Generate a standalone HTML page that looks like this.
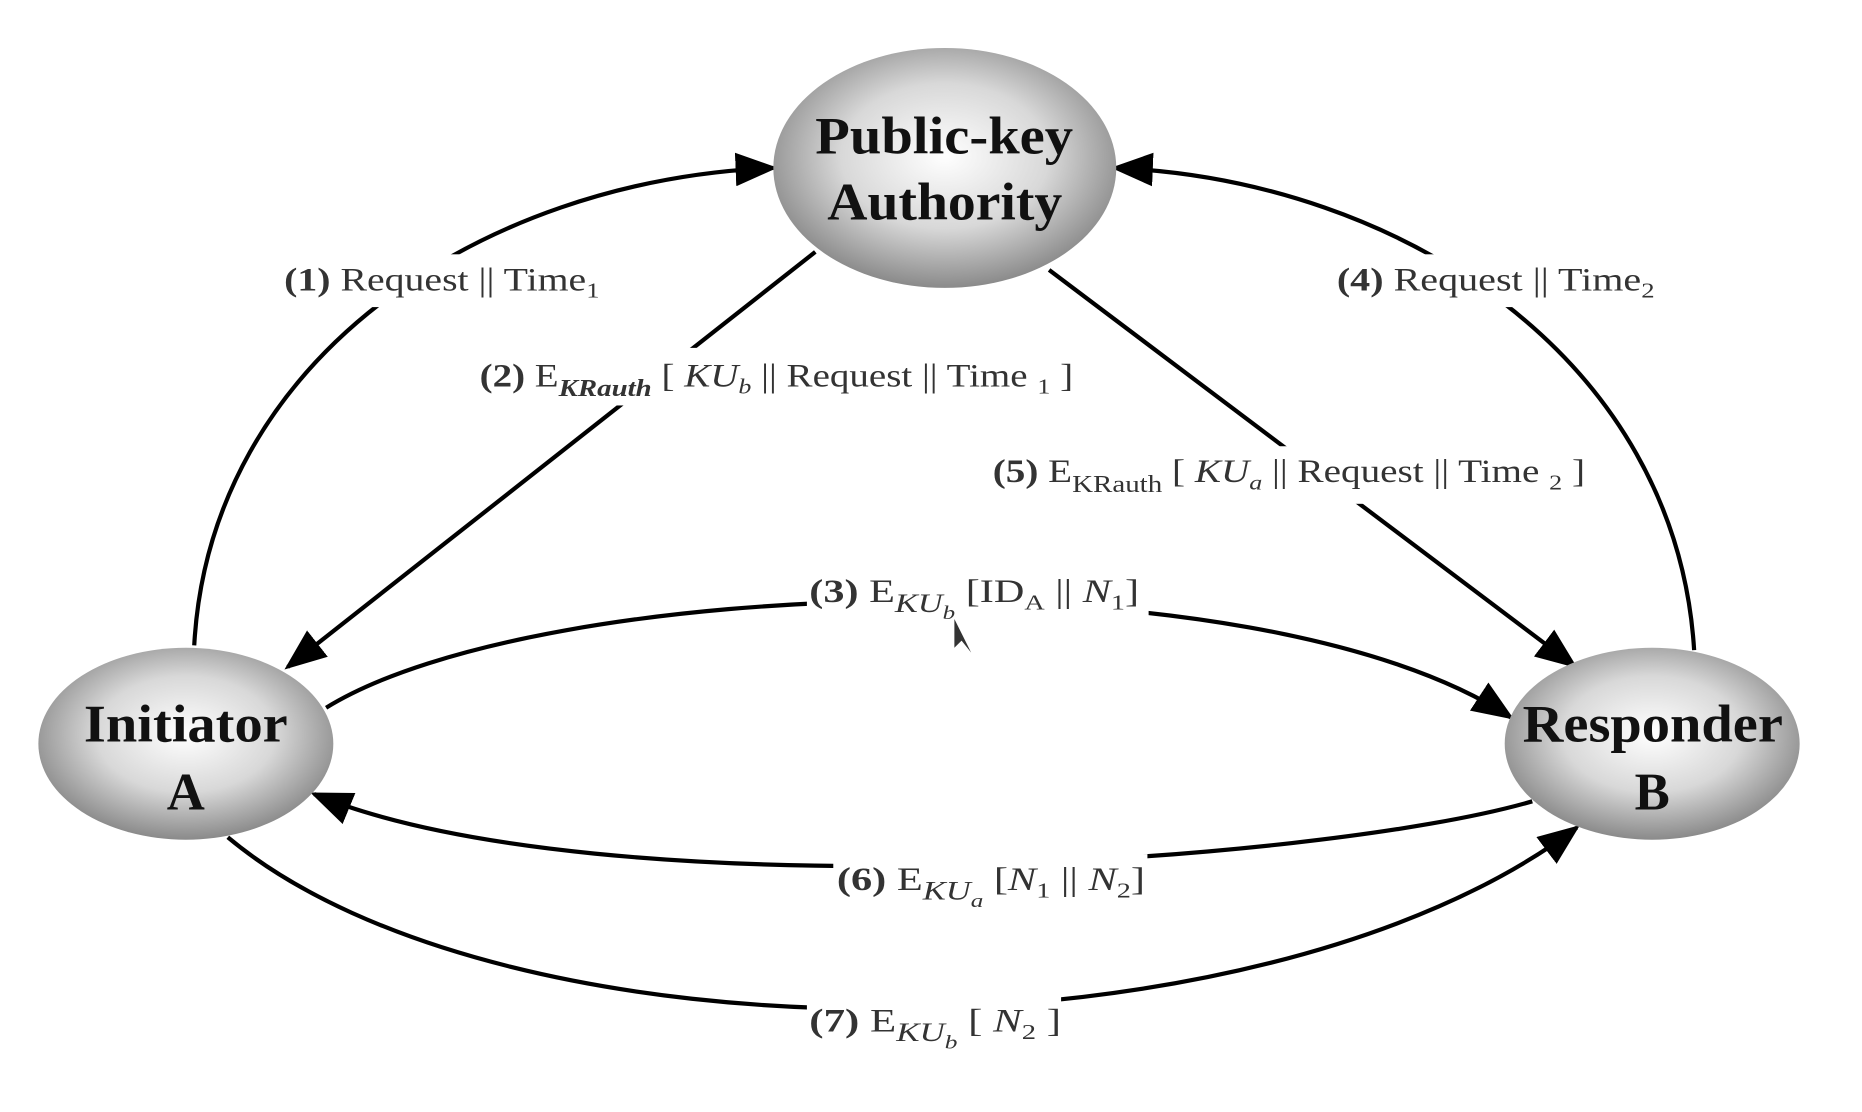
<!DOCTYPE html>
<html><head><meta charset="utf-8"><style>
html,body{margin:0;padding:0;background:#fff;}
svg{display:block;}
.lb{font-family:"Liberation Serif",serif;font-size:27px;fill:#333;}
.nd{font-family:"Liberation Serif",serif;font-size:44px;font-weight:bold;fill:#111;}
</style></head><body>
<svg width="1862" height="1112" viewBox="0 0 1553 927" preserveAspectRatio="none" xmlns="http://www.w3.org/2000/svg">
<defs>
<radialGradient id="g" cx="50%" cy="45%" r="55%">
<stop offset="0" stop-color="#ffffff"/><stop offset="0.55" stop-color="#d8d8d8"/><stop offset="1" stop-color="#8a8a8a"/>
</radialGradient>
<marker id="ah" markerWidth="10" markerHeight="8" refX="9" refY="4" orient="auto" markerUnits="strokeWidth">
<path d="M0,0 L10,4 L0,8 z" fill="#000"/>
</marker>
</defs>
<g fill="none" stroke="#000" stroke-width="3.5" marker-end="url(#ah)">
<path d="M162,538 C175,300 400,150 645,140"/>
<path d="M1413,542 C1398,300 1170,150 930,140"/>
<path d="M680,210 L240,556"/>
<path d="M875,225 L1313,555"/>
<path d="M272,590 C450,480 1050,460 1260,598"/>
<path d="M1278,668 C1100,720 500,760 262,662"/>
<path d="M190,698 C420,890 1050,890 1315,690"/>
</g>
<g fill="#fff">
<rect x="232" y="212" width="275" height="44"/>
<rect x="1110" y="212" width="275" height="44"/>
<rect x="395" y="290" width="505" height="48"/>
<rect x="825" y="372" width="502" height="48"/>
<rect x="673" y="474" width="285" height="48"/>
<rect x="695" y="712" width="262" height="48"/>
<rect x="673" y="830" width="212" height="48"/>
</g>
<ellipse cx="788" cy="140" rx="143" ry="100" fill="url(#g)"/>
<ellipse cx="155" cy="620" rx="123" ry="80" fill="url(#g)"/>
<ellipse cx="1378" cy="620" rx="123" ry="80" fill="url(#g)"/>
<text class="nd" x="680" y="128" textLength="215" lengthAdjust="spacingAndGlyphs">Public-key</text>
<text class="nd" x="690" y="183" textLength="196" lengthAdjust="spacingAndGlyphs">Authority</text>
<text class="nd" x="70" y="618" textLength="170" lengthAdjust="spacingAndGlyphs">Initiator</text>
<text class="nd" x="155" y="675" text-anchor="middle">A</text>
<text class="nd" x="1270" y="618" textLength="217" lengthAdjust="spacingAndGlyphs">Responder</text>
<text class="nd" x="1378" y="675" text-anchor="middle">B</text>
<text class="lb" x="237" y="242" textLength="263" lengthAdjust="spacingAndGlyphs"><tspan font-weight="bold">(1)</tspan>  Request || Time<tspan font-size="18" dy="6">1</tspan></text>
<text class="lb" x="1115" y="242" textLength="265" lengthAdjust="spacingAndGlyphs"><tspan font-weight="bold">(4)</tspan>  Request || Time<tspan font-size="18" dy="6">2</tspan></text>
<text class="lb" x="400" y="322" textLength="495" lengthAdjust="spacingAndGlyphs"><tspan font-weight="bold">(2)</tspan> E<tspan font-size="20" font-style="italic" font-weight="bold" dy="8">KRauth</tspan><tspan dy="-8"> [ </tspan><tspan font-style="italic">KU</tspan><tspan font-size="18" font-style="italic" dy="6">b</tspan><tspan dy="-6"> || Request || Time </tspan><tspan font-size="18" dy="6">1</tspan><tspan dy="-6"> ]</tspan></text>
<text class="lb" x="828" y="402" textLength="494" lengthAdjust="spacingAndGlyphs"><tspan font-weight="bold">(5)</tspan> E<tspan font-size="20" dy="8">KRauth</tspan><tspan dy="-8"> [ </tspan><tspan font-style="italic">KU</tspan><tspan font-size="18" font-style="italic" dy="6">a</tspan><tspan dy="-6"> || Request || Time </tspan><tspan font-size="18" dy="6">2</tspan><tspan dy="-6"> ]</tspan></text>
<text class="lb" x="675" y="502" textLength="275" lengthAdjust="spacingAndGlyphs"><tspan font-weight="bold">(3)</tspan> E<tspan font-size="22" font-style="italic" dy="8">KU</tspan><tspan font-size="16" font-style="italic" dy="6">b</tspan><tspan dy="-14"> [ID</tspan><tspan font-size="18" dy="6">A</tspan><tspan dy="-6"> || </tspan><tspan font-style="italic">N</tspan><tspan font-size="18" dy="6">1</tspan><tspan dy="-6">]</tspan></text>
<text class="lb" x="698" y="742" textLength="257" lengthAdjust="spacingAndGlyphs"><tspan font-weight="bold">(6)</tspan> E<tspan font-size="22" font-style="italic" dy="8">KU</tspan><tspan font-size="16" font-style="italic" dy="6">a</tspan><tspan dy="-14"> [</tspan><tspan font-style="italic">N</tspan><tspan font-size="18" dy="6">1</tspan><tspan dy="-6"> || </tspan><tspan font-style="italic">N</tspan><tspan font-size="18" dy="6">2</tspan><tspan dy="-6">]</tspan></text>
<text class="lb" x="675" y="860" textLength="210" lengthAdjust="spacingAndGlyphs"><tspan font-weight="bold">(7)</tspan> E<tspan font-size="22" font-style="italic" dy="8">KU</tspan><tspan font-size="16" font-style="italic" dy="6">b</tspan><tspan dy="-14"> [ </tspan><tspan font-style="italic">N</tspan><tspan font-size="18" dy="6">2</tspan><tspan dy="-6"> ]</tspan></text>
<path d="M796,516 L796,540 L802,534 L810,544 Z" fill="#333"/>
</svg>
</body></html>
